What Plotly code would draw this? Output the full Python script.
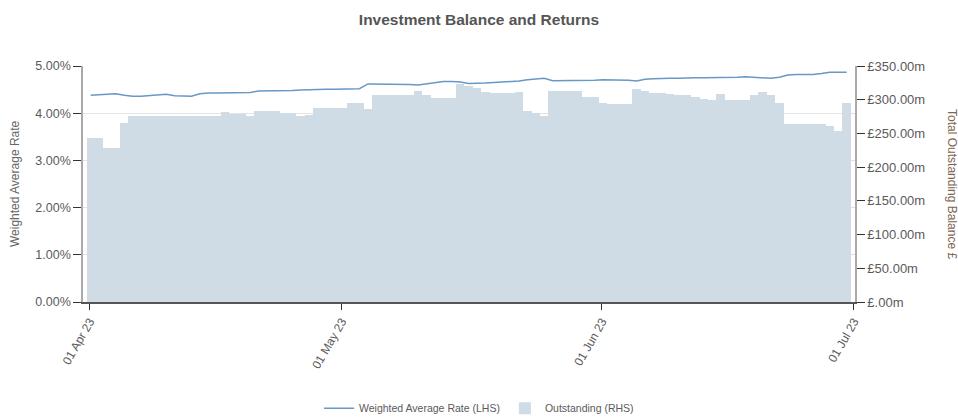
import pandas as pd
import plotly.graph_objects as go

# ---- data ----
dates = pd.date_range("2023-04-01", "2023-06-30", freq="D")

outstanding_m = [
    243, 243, 228, 228, 265, 276, 276, 276, 276, 276,
    276, 276, 276, 276, 276, 276, 282, 279, 279, 276,
    284, 284, 284, 280, 280, 276, 278, 288, 288, 288,
    288, 295, 295, 286, 307, 307, 307, 307, 307, 313,
    307, 303, 303, 303, 323, 320, 318, 312, 309.5, 309.5,
    309.5, 311, 284, 281, 276, 313, 313, 313, 313, 304.5,
    304.5, 295, 293, 293, 293, 315.5, 313, 310, 310, 308,
    306.5, 306.5, 303.5, 301.5, 299.5, 309, 299, 299, 299, 306.5,
    311, 307, 295, 263.5, 263.5, 263.5, 263.5, 263.5, 261.5, 253.6,
    295,
]

weighted_rate = [
    4.38, 4.39, 4.40, 4.41, 4.38, 4.36, 4.36, 4.37, 4.39, 4.40,
    4.37, 4.36, 4.36, 4.41, 4.43, 4.43, 4.43, 4.43, 4.43, 4.44,
    4.47, 4.47, 4.47, 4.47, 4.48, 4.49, 4.50, 4.51, 4.51, 4.51,
    4.51, 4.52, 4.52, 4.62, 4.62, 4.62, 4.62, 4.62, 4.61, 4.60,
    4.62, 4.64, 4.67, 4.67, 4.66, 4.63, 4.63, 4.64, 4.65, 4.66,
    4.67, 4.68, 4.71, 4.73, 4.74, 4.69, 4.69, 4.70, 4.70, 4.70,
    4.70, 4.71, 4.71, 4.71, 4.70, 4.68, 4.72, 4.73, 4.74, 4.74,
    4.74, 4.75, 4.75, 4.75, 4.75, 4.76, 4.75, 4.76, 4.77, 4.76,
    4.74, 4.74, 4.76, 4.81, 4.82, 4.82, 4.82, 4.84, 4.87, 4.87,
    4.87,
]

x_tick_dates = ["2023-04-01", "2023-05-01", "2023-06-01", "2023-07-01"]
x_tick_labels = ["01 Apr 23", "01 May 23", "01 Jun 23", "01 Jul 23"]
left_ticks = [0, 1, 2, 3, 4, 5]
left_tick_labels = ["0.00%", "1.00%", "2.00%", "3.00%", "4.00%", "5.00%"]
right_ticks = [0, 50, 100, 150, 200, 250, 300, 350]
right_tick_labels = ["£.00m", "£50.00m", "£100.00m", "£150.00m", "£200.00m",
                     "£250.00m", "£300.00m", "£350.00m"]

# ---- styling ----
FONT = "Liberation Sans, Arial, sans-serif"
TXT = "#5a5a5a"
BAR_COLOR = "#cfdbe5"
LINE_COLOR = "#6798c8"

x_pos = dates + pd.Timedelta(hours=3)

fig = go.Figure()
fig.add_trace(go.Bar(
    x=x_pos, y=outstanding_m, name="Outstanding (RHS)",
    marker=dict(color=BAR_COLOR, line=dict(width=0)),
    width=86400000, yaxis="y", legendrank=2,
))
fig.add_trace(go.Scatter(
    x=x_pos, y=weighted_rate, name="Weighted Average Rate (LHS)",
    mode="lines", line=dict(color=LINE_COLOR, width=1.5),
    yaxis="y2", legendrank=1,
))

fig.update_layout(
    width=958, height=418,
    margin=dict(l=83, r=103, t=66, b=116, autoexpand=False),
    paper_bgcolor="white", plot_bgcolor="white",
    font=dict(family=FONT, color=TXT, size=13),
    bargap=0,
    showlegend=True,
    title=dict(text="<b>Investment Balance and Returns</b>", x=0.5, xref="container",
               y=1 - 20 / 418, yref="container", yanchor="middle", xanchor="center",
               font=dict(family=FONT, size=15.5, color="#555555")),
    xaxis=dict(
        type="date", automargin=False,
        range=["2023-03-31 05:00", "2023-07-01 03:00"],
        tickvals=x_tick_dates, ticktext=x_tick_labels,
        tickangle=-60, ticks="outside", ticklen=6, tickcolor="#333",
        showline=True, linecolor="#555", linewidth=1.5,
        showgrid=False, zeroline=False,
        tickfont=dict(size=12, color=TXT),
    ),
    yaxis=dict(
        side="right", range=[0, 350], automargin=False,
        tickvals=right_ticks, ticktext=right_tick_labels,
        ticks="outside", ticklen=8, tickcolor="#333",
        showline=True, linecolor="#aaaaaa", linewidth=1.5,
        showgrid=False, zeroline=False,
        tickfont=dict(size=13, color=TXT),
    ),
    yaxis2=dict(
        side="left", overlaying="y", range=[0, 5], automargin=False,
        tickvals=left_ticks, ticktext=left_tick_labels,
        ticks="outside", ticklen=8, tickcolor="#333",
        showline=True, linecolor="#aaaaaa", linewidth=1.5,
        showgrid=True, gridcolor="#e3e3e3", gridwidth=1, zeroline=False,
        tickfont=dict(size=12.5, color=TXT),
    ),
    legend=dict(
        orientation="h", x=0.513, xanchor="center", y=-0.45, yanchor="middle",
        font=dict(size=10.5, color=TXT), bgcolor="rgba(0,0,0,0)",
        traceorder="normal",
    ),
    annotations=[
        dict(text="Weighted Average Rate", xref="paper", yref="paper",
             x=-0.088, y=0.5, xanchor="center", yanchor="middle",
             textangle=-90, showarrow=False,
             font=dict(size=12, color="#666666")),
        dict(text="Total Outstanding Balance £", xref="paper", yref="paper",
             x=1.1256, y=0.5, xanchor="center", yanchor="middle",
             textangle=90, showarrow=False,
             font=dict(size=12, color="#7d6450")),
    ],
)

fig.write_html("out.html",
               config={"displayModeBar": False},
               post_script="document.body.style.margin='0';document.body.style.overflow='hidden';")
